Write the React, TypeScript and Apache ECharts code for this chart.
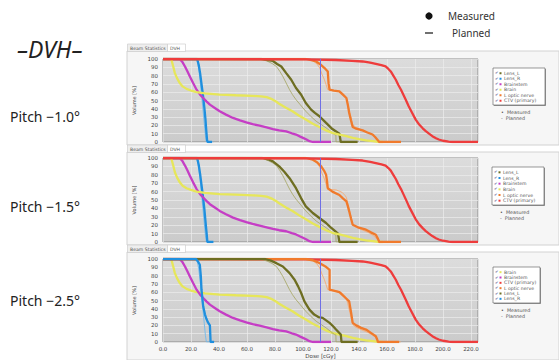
import React, { useEffect, useRef } from "react";
import * as echarts from "echarts";

// ---- tick / label data ----
const X_MAX = 225;
const X_STEP = 20;
const Y_STEP = 10;
const PANEL_LABELS = ["Pitch −1.0°", "Pitch −1.5°", "Pitch −2.5°"];
const ORDER_P12 = ["Lens_L", "Lens_R", "Brainstem", "Brain", "L optic nerve", "CTV (primary)"];
const ORDER_P3 = ["Brain", "Brainstem", "CTV (primary)", "L optic nerve", "Lens_L", "Lens_R"];
const REF_DOSE = 112;

// ---- planned DVH curves [dose cGy, volume %] ----
const plannedLensL = [[0,100],[68,100],[71,99.5],[75,97],[78,94.5],[81,91],[83.5,85],[85.6,79],[88,71],[90.4,63],[92.5,57],[95,51],[98,45],[102,37],[105.5,31],[109.4,25],[113,21],[116.5,17],[119.5,13],[122.4,9],[123.5,8.5],[123.6,0],[139,0]];
const plannedLensR = [[0,100],[23.5,100],[24.5,97],[25.5,88],[26.5,74],[27.5,57],[28.5,40],[29.5,22],[30.3,8],[31,0],[36,0]];
const plannedBrainstem = [[0,100],[12,100],[14,96],[15.7,91],[17.5,85],[19.2,79],[21.5,71],[24,63],[26.5,57],[28.7,53],[31,49],[33.5,45],[37,41],[40.5,37],[45,33],[50,29],[55,26],[59.5,23.6],[64,21.5],[69,19.6],[74,17.5],[78.5,15.6],[83,14],[88,12.8],[92,10.5],[95,9],[98,6.5],[100,5],[102.5,3],[104.6,1],[107,0],[120,0]];
const plannedBrain = [[0,100],[5.5,100],[6.2,98],[7.3,91],[8.5,83],[10,77],[12,71],[14,67],[16.8,64],[20,62],[24,60],[30,58.5],[40.5,57],[52,56.3],[64,55.6],[70,55],[74,54],[76.5,52.5],[78.5,51],[81,48.5],[83,46],[87.5,41.5],[92.5,37],[97,32],[102,27],[107,22],[111.7,18],[116.5,14],[121,11],[126,9],[131,7],[135.5,5],[140,3.5],[145,2],[150,1],[154.5,0],[157,0]];
const plannedOptic = [[0,100],[100,100],[104,99.5],[107,98],[110,94],[112,89],[113.5,82],[115.3,75],[116.5,69],[117.7,63],[120,62.5],[123.6,62],[126,60.5],[128,59],[130,55.5],[131,53],[132,46],[133,39],[134.3,30],[135.5,21],[137.5,18],[140,16],[143.5,13.5],[147,11],[150,8],[152,5],[153.5,2],[154.5,0],[170,0]];
const plannedCTV = [[0,100],[102,99.5],[123.6,98.8],[135,97.8],[142.6,97],[148,95.5],[152,94],[156,92.5],[159,91],[161,88],[162.7,85],[164.5,80],[166.3,75],[168,69],[170,63],[171.7,57],[173.4,51],[175.5,43],[178,35],[180.5,27],[183,21],[185.5,16.5],[187.7,13],[190,10],[192.4,7],[195,4.5],[197,3],[200,1.5],[204,0.4],[207,0],[225,0]];

// ---- measured DVH curves ----
const measuredBrainstem = [[0,100],[12,100],[14,96],[15.7,91],[17.5,85],[19.2,79],[21.5,71],[24,63],[26.5,57],[28.7,53],[31,49],[33.5,45],[37,41],[40.5,37],[45,33],[50,29],[55,26],[59.5,23.6],[64,21.5],[69,19.6],[74,17.5],[78.5,15.6],[83,14],[88,12.8],[92,10.5],[95,9],[98,6.5],[100,5],[102.5,3],[104.6,1],[107,0],[120,0]];
const measuredBrain = [[0,100],[5.5,100],[6.2,98],[7.3,91],[8.5,83],[10,77],[12,71],[14,67],[16.8,64],[20,62],[24,60],[30,58.5],[40.5,57],[52,56.3],[64,55.6],[70,55],[74,54],[76.5,52.5],[78.5,51],[81,48.5],[83,46],[87.5,41.5],[92.5,37],[97,32],[102,27],[107,22],[111.7,18],[116.5,14],[121,11],[126,9],[131,7],[135.5,5],[140,3.5],[145,2],[150,1],[154.5,0],[157,0]];
const measuredCTV = [[0,100],[102,99.5],[123.6,98.8],[135,97.8],[142.6,97],[148,95.5],[152,94],[156,92.5],[159,91],[161,88],[162.7,85],[164.5,80],[166.3,75],[168,69],[170,63],[171.7,57],[173.4,51],[175.5,43],[178,35],[180.5,27],[183,21],[185.5,16.5],[187.7,13],[190,10],[192.4,7],[195,4.5],[197,3],[200,1.5],[204,0.4],[207,0],[225,0]];

const measuredLensL_p1 = [[0,100],[70,100],[74,99],[78.5,97.6],[81.5,94],[84.5,91],[88,83],[91.6,75],[95,65],[98.7,57],[102,47],[105.8,39],[108.5,35],[111.7,31],[116.5,23],[121,15.6],[126,10],[127,0],[139,0]];
const measuredLensL_p2 = [[0,100],[71,100],[75,98.5],[78.5,96],[83,90],[86.5,84],[90.4,76],[95,64],[98.7,52],[102,42.5],[107,34.5],[111.7,28.6],[116.5,22.6],[120,17],[123.6,12],[125,10],[126,0],[139,0]];
const measuredLensL_p3 = [[0,100],[73,100],[77,98],[81,95],[85.6,91],[90.4,83],[94,75],[96.5,67],[98.7,59],[101,49],[104.6,39],[108,33],[111,30],[114,29],[116.5,26],[119,23],[121.5,19],[123.6,15],[127,9],[127.5,0],[139,0]];

const measuredLensR_p1 = [[0,100],[24.4,100],[25.5,93],[26.5,83],[27.5,70],[28.5,57],[29.5,42],[30.3,28],[31,12],[31.5,2],[32,0],[35,0]];
const measuredLensR_p2 = [[0,100],[24.4,100],[25.5,92],[26.5,81],[27.5,68],[28.5,55],[29.5,40],[30.5,22],[31.3,8],[31.7,0],[36,0]];
const measuredLensR_p3 = [[0,100],[23.5,100],[25,97],[26.3,93],[27,80],[27.5,63],[28.7,43],[30,33],[31,28],[32,24],[33.5,20],[33.7,12],[34,0],[36.5,0]];

const measuredOptic_p1 = [[0,100],[102,100],[106,98.5],[109.4,97],[112,94],[114,91],[116,88],[117.7,85],[118.3,70],[119,63],[122,62],[126,61],[128.5,57],[131,53],[132,45],[133,35],[134.3,26],[135.5,18],[138,16],[142.6,14],[146,11.5],[149.7,9],[151.5,6],[153,3],[154.5,0],[170,0]];
const measuredOptic_p2 = [[0,100],[102,100],[107,98],[110,95],[113,90],[115,85],[116.5,80],[117.2,72],[117.7,64],[121,60],[126,56],[128.5,52],[131,48.4],[132,43],[133,36.5],[134.3,28],[135.5,20.6],[140,17],[145,14.7],[148.5,11.5],[152,8.7],[153.5,4],[154.5,0],[170,0]];
const measuredOptic_p3 = [[0,100],[102,100],[107,98.5],[112,95],[116,91],[119,87],[119,63],[122.5,61.5],[126,60],[129.5,54.5],[133,49],[134.3,36],[135.5,23],[138,20],[141.5,17],[145,15],[148.5,11],[152,7],[153,3],[153.5,0],[168.7,0]];

const PLANNED: Record<string, number[][]> = {
  "Lens_L": plannedLensL, "Lens_R": plannedLensR, "Brainstem": plannedBrainstem,
  "Brain": plannedBrain, "L optic nerve": plannedOptic, "CTV (primary)": plannedCTV,
};
const MEASURED: Record<string, number[][]>[] = [
  { "Lens_L": measuredLensL_p1, "Lens_R": measuredLensR_p1, "Brainstem": measuredBrainstem, "Brain": measuredBrain, "L optic nerve": measuredOptic_p1, "CTV (primary)": measuredCTV },
  { "Lens_L": measuredLensL_p2, "Lens_R": measuredLensR_p2, "Brainstem": measuredBrainstem, "Brain": measuredBrain, "L optic nerve": measuredOptic_p2, "CTV (primary)": measuredCTV },
  { "Lens_L": measuredLensL_p3, "Lens_R": measuredLensR_p3, "Brainstem": measuredBrainstem, "Brain": measuredBrain, "L optic nerve": measuredOptic_p3, "CTV (primary)": measuredCTV },
];

const COLORS: Record<string, [string, string]> = {
  "Lens_L": ["#6e6e22", "#a9a96c"],
  "Lens_R": ["#1f8fde", "#72baec"],
  "Brainstem": ["#c53ec5", "#db86db"],
  "Brain": ["#e6e65a", "#eeee9c"],
  "L optic nerve": ["#f07a2c", "#f5ab76"],
  "CTV (primary)": ["#ee3c3c", "#f48282"],
};

const GRIDS = [
  { left: 163, top: 59, width: 315, height: 83 },
  { left: 163, top: 158, width: 315, height: 84 },
  { left: 163, top: 259, width: 315, height: 83 },
];
const WINDOWS = [
  { y: 44, h: 101 },
  { y: 145, h: 100 },
  { y: 245, h: 115 },
];
const LEGEND_BOX = [
  { x: 493, y: 68, w: 52, h: 37 },
  { x: 492, y: 167, w: 52, h: 38 },
  { x: 493, y: 267, w: 47, h: 36 },
];
const LABEL_Y = [116, 206, 300];

export default function App() {
  const ref = useRef<HTMLDivElement>(null);
  useEffect(() => {
    if (!ref.current) return;
    const chart = echarts.init(ref.current, null, { renderer: "svg" });
    const xAxis: any[] = [];
    const yAxis: any[] = [];
    const series: any[] = [];
    const graphic: any[] = [];

    WINDOWS.forEach((w) => {
      graphic.push({ type: "rect", z: -10, shape: { x: 127, y: w.y + 7, width: 432, height: w.h - 7 }, style: { fill: "#f6f6f6", stroke: "#d2d2d2", lineWidth: 1 } });
      graphic.push({ type: "rect", z: -9, shape: { x: 127.5, y: w.y, width: 40, height: 7.5 }, style: { fill: "#eeeeee", stroke: "#c8c8c8", lineWidth: 0.6 } });
      graphic.push({ type: "rect", z: -9, shape: { x: 167.5, y: w.y, width: 18, height: 7.5 }, style: { fill: "#ffffff", stroke: "#c8c8c8", lineWidth: 0.6 } });
      graphic.push({ type: "text", z: -8, style: { x: 130, y: w.y + 4, text: "Beam Statistics", fontSize: 4.6, fill: "#555", verticalAlign: "middle", fontFamily: "DejaVu Sans" } });
      graphic.push({ type: "text", z: -8, style: { x: 170, y: w.y + 4, text: "DVH", fontSize: 4.6, fill: "#555", verticalAlign: "middle", fontFamily: "DejaVu Sans" } });
    });

    GRIDS.forEach((g, p) => {
      const last = p === 2;
      xAxis.push({
        type: "value", gridIndex: p, min: 0, max: X_MAX, interval: X_STEP,
        axisLine: { show: false }, axisTick: { show: false },
        axisLabel: { show: last, fontSize: 5.5, color: "#444", margin: 4, showMaxLabel: false, formatter: (v: number) => v.toFixed(1), fontFamily: "DejaVu Sans" },
        splitLine: { show: true, lineStyle: { color: "#ececec", width: 0.7 } },
        name: last ? "Dose [cGy]" : "", nameLocation: "middle", nameGap: 11,
        nameTextStyle: { fontSize: 5.5, color: "#444", fontFamily: "DejaVu Sans" },
      });
      yAxis.push({
        type: "value", gridIndex: p, min: 0, max: 100, interval: Y_STEP,
        axisLine: { show: false }, axisTick: { show: false },
        axisLabel: { fontSize: 5.5, color: "#444", margin: 5, fontFamily: "DejaVu Sans" },
        splitLine: { show: true, lineStyle: { color: "#ececec", width: 0.7 } },
        name: "Volume [%]", nameLocation: "middle", nameGap: 15,
        nameTextStyle: { fontSize: 5, color: "#444", fontFamily: "DejaVu Sans" },
      });
      const order = p === 2 ? ORDER_P3 : ORDER_P12;
      order.forEach((s) => {
        series.push({
          type: "line", xAxisIndex: p, yAxisIndex: p, name: s + " planned",
          data: PLANNED[s], showSymbol: false, symbol: "none",
          lineStyle: { color: COLORS[s][1], width: 0.9 }, silent: true,
        });
        series.push({
          type: "line", xAxisIndex: p, yAxisIndex: p, name: s + " measured",
          data: MEASURED[p][s], showSymbol: false, symbol: "none",
          lineStyle: { color: COLORS[s][0], width: 2.3 }, silent: true,
        });
      });
      series.push({
        type: "line", xAxisIndex: p, yAxisIndex: p, data: [], silent: true,
        markLine: {
          symbol: "none", silent: true, label: { show: false },
          lineStyle: { color: "#6f6fe6", width: 1, type: "solid" },
          data: [{ xAxis: REF_DOSE }],
        },
      });

      const b = LEGEND_BOX[p];
      graphic.push({ type: "rect", shape: { x: b.x + 1, y: b.y + 1, width: b.w, height: b.h }, style: { fill: "#9a9a9a" } });
      graphic.push({ type: "rect", shape: { x: b.x, y: b.y, width: b.w, height: b.h }, style: { fill: "#ffffff", stroke: "#555", lineWidth: 0.6 } });
      const step = (b.h - 4) / 6;
      order.forEach((s, i) => {
        const yy = b.y + 2.5 + step * (i + 0.5);
        graphic.push({ type: "text", style: { x: b.x + 2, y: yy, text: "✔", fontSize: 3.6, fill: "#6a6a9a", verticalAlign: "middle" } });
        graphic.push({ type: "rect", shape: { x: b.x + 6.5, y: yy - 1, width: 2, height: 2 }, style: { fill: COLORS[s][0] } });
        graphic.push({ type: "text", style: { x: b.x + 11, y: yy, text: s, fontSize: 4.6, fill: "#555", verticalAlign: "middle", fontFamily: "DejaVu Sans" } });
      });
      graphic.push({ type: "text", style: { x: b.x + 8, y: b.y + b.h + 7, text: "•  Measured", fontSize: 4.8, fill: "#555", verticalAlign: "middle", fontFamily: "DejaVu Sans" } });
      graphic.push({ type: "text", style: { x: b.x + 8, y: b.y + b.h + 13, text: "-  Planned", fontSize: 4.8, fill: "#555", verticalAlign: "middle", fontFamily: "DejaVu Sans" } });

      graphic.push({ type: "text", style: { x: 10, y: LABEL_Y[p], text: PANEL_LABELS[p], fontSize: 14, fill: "#222", verticalAlign: "middle", fontFamily: "Noto Sans" } });
    });

    graphic.push({ type: "text", style: { x: 17, y: 49, text: "–DVH–", fontSize: 23, fontStyle: "italic", fill: "#222", verticalAlign: "middle", fontFamily: "Noto Sans" } });
    graphic.push({ type: "circle", shape: { cx: 429, cy: 16, r: 3.6 }, style: { fill: "#111" } });
    graphic.push({ type: "text", style: { x: 448, y: 16, text: "Measured", fontSize: 10, fill: "#333", verticalAlign: "middle", fontFamily: "Noto Sans" } });
    graphic.push({ type: "line", shape: { x1: 425, y1: 33, x2: 433, y2: 33 }, style: { stroke: "#333", lineWidth: 1.4 } });
    graphic.push({ type: "text", style: { x: 452, y: 33, text: "Planned", fontSize: 10, fill: "#333", verticalAlign: "middle", fontFamily: "Noto Sans" } });

    const bg = new echarts.graphic.LinearGradient(0, 0, 0, 1, [
      { offset: 0, color: "#dcdcdc" },
      { offset: 1, color: "#cbcbcb" },
    ]);
    chart.setOption({
      animation: false,
      backgroundColor: "#ffffff",
      grid: GRIDS.map((g) => ({ ...g, show: true, backgroundColor: bg, borderColor: "#8c8c8c", borderWidth: 1 })),
      xAxis, yAxis, series, graphic,
    });
    return () => chart.dispose();
  }, []);
  return <div ref={ref} style={{ position: "absolute", left: 0, top: 0, width: 559, height: 360 }} />;
}
